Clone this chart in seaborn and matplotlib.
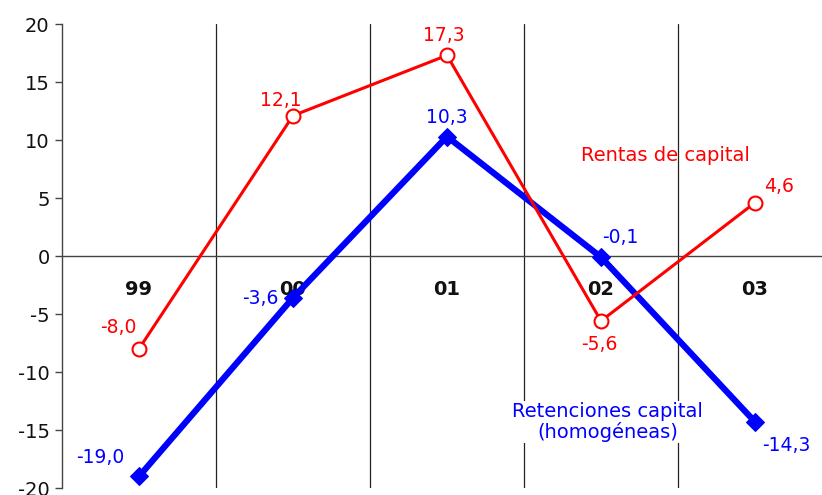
import matplotlib
matplotlib.use("Agg")
import matplotlib.pyplot as plt
import seaborn as sns
import pandas as pd

categories = ["99", "00", "01", "02", "03"]
rentas = [-8.0, 12.1, 17.3, -5.6, 4.6]
retenciones = [-19.0, -3.6, 10.3, -0.1, -14.3]
rentas_labels = ["-8,0", "12,1", "17,3", "-5,6", "4,6"]
retenciones_labels = ["-19,0", "-3,6", "10,3", "-0,1", "-14,3"]
yticks = [-20, -15, -10, -5, 0, 5, 10, 15, 20]

sns.set_theme(style="white")
plt.rcParams['font.family'] = ['DejaVu Sans']

fig = plt.figure(figsize=(8.22, 4.95), dpi=100)
W, H = 822, 495
ax = fig.add_axes([62 / W, 7 / H, 770 / W, 464 / H])

x = list(range(len(categories)))
df = pd.DataFrame({"x": x, "rentas": rentas, "retenciones": retenciones})

# vertical separators
for b in [0.5, 1.5, 2.5, 3.5]:
    ax.axvline(b, color="#222222", lw=0.9, zorder=1)
ax.axhline(0, color="#444444", lw=1.0, zorder=1)

sns.lineplot(data=df, x="x", y="retenciones", ax=ax, color="#0000ff", lw=4.5,
             marker="D", markersize=9, markeredgecolor="#0000ff", zorder=3)
sns.lineplot(data=df, x="x", y="rentas", ax=ax, color="#ff0000", lw=2.2,
             marker="o", markersize=10, markerfacecolor="white",
             markeredgecolor="#ff0000", markeredgewidth=1.5, zorder=4)

ax.set_xlim(-0.5, 4.5)
ax.set_ylim(-20, 20)
ax.set_yticks(yticks)
ax.set_yticklabels([str(t) for t in yticks], fontsize=14, color="#111111")
ax.set_xticks([])
ax.set_xlabel("")
ax.set_ylabel("")
for s in ["top", "right", "bottom"]:
    ax.spines[s].set_visible(False)
ax.spines["left"].set_color("#444444")
ax.spines["left"].set_linewidth(1.0)
ax.tick_params(axis="y", direction="out", length=5, width=1, color="#444444",
               left=True, pad=4)

for xi, c in zip(x, categories):
    ax.text(xi, -2.9, c, ha="center", va="center", fontsize=14,
            fontweight="bold", color="#111111", zorder=2)

fs = 13.5
# label offsets in pixels
r_off = [(-21, 21), (-12, 15), (-3, 20), (-2, -24), (24, 16)]
for xi, v, lab, (dx, dy) in zip(x, rentas, rentas_labels, r_off):
    ax.annotate(lab, (xi, v), xytext=(dx, dy), textcoords="offset pixels",
                ha="center", va="center", color="#ff0000", fontsize=fs, zorder=5)
b_off = [(-39, 19), (-33, -1), (0, 19), (19, 20), (31, -24)]
for xi, v, lab, (dx, dy) in zip(x, retenciones, retenciones_labels, b_off):
    ax.annotate(lab, (xi, v), xytext=(dx, dy), textcoords="offset pixels",
                ha="center", va="center", color="#0000ff", fontsize=fs, zorder=5)

ax.text(3.416, 8.7, "Rentas de capital", ha="center", va="center",
        color="#ff0000", fontsize=14, zorder=5)
ax.text(3.045, -14.3, "Retenciones capital\n(homogéneas)", ha="center",
        va="center", color="#0000ff", fontsize=14, linespacing=1.05, zorder=5,
        bbox=dict(facecolor="white", edgecolor="none", pad=1))

fig.savefig("out.png", dpi=100)
